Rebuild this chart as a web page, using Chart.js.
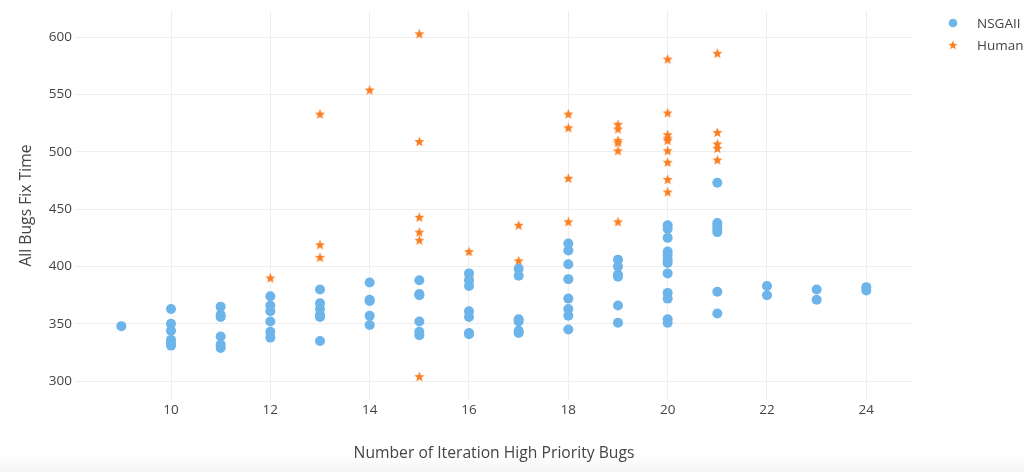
<!DOCTYPE html>
<html>
<head>
<meta charset="utf-8">
<title>All Bugs Fix Time vs High Priority Bugs</title>
<script src="https://cdn.jsdelivr.net/npm/chart.js@4.4.1/dist/chart.umd.min.js"></script>
<style>
  html, body { margin: 0; padding: 0; background: #fff; }
  #wrap { position: relative; width: 1024px; height: 472px; overflow: hidden;
          font-family: "Open Sans", "DejaVu Sans", sans-serif; }
  #shade { position: absolute; left: 0; right: 0; bottom: 0; height: 18px;
           background: linear-gradient(#ffffff, #f5f5f5); }
  #plot { position: absolute; left: 0; top: 0; }
  .lg { position: absolute; left: 946px; height: 18px; line-height: 18px;
        font-size: 13.5px; color: #444; white-space: nowrap; }
  .lg .mk { position: absolute; left: 0; top: 0; width: 14px; height: 18px; }
  .lg .tx { position: absolute; left: 31px; top: 0; }
</style>
</head>
<body>
<div id="wrap">
  <div id="shade"></div>
  <canvas id="plot" width="1024" height="472"></canvas>
  <div class="lg" style="top:14px">
    <svg class="mk" viewBox="0 0 14 18"><circle cx="7" cy="9" r="4.3" fill="#6cb4ea"/></svg>
    <span class="tx">NSGAII</span>
  </div>
  <div class="lg" style="top:36px">
    <svg class="mk" viewBox="0 0 14 18"><polygon id="lgStar" fill="#fb7e22"/></svg>
    <span class="tx">Human</span>
  </div>
</div>
<script>
// Iteration counts (x) and the fix-time values found at each count
const nsgaIterations = [9, 10, 11, 12, 13, 14, 15, 16, 17, 18, 19, 20, 21, 22, 23, 24];
const nsgaFixTimes = [
  [348],
  [363, 350, 344, 336, 333, 331],
  [365, 358, 356, 339, 332, 329],
  [374, 366, 361, 352, 343, 338],
  [380, 368, 363, 358, 356, 335],
  [386, 371, 370, 357, 349],
  [388, 376, 375, 352, 343, 340],
  [394, 388, 383, 361, 356, 342, 341],
  [398, 392, 354, 352, 344, 342],
  [420, 414, 402, 389, 372, 363, 357, 345],
  [406, 400, 393, 391, 366, 351],
  [436, 433, 425, 413, 410, 406, 403, 394, 377, 372, 354, 351],
  [473, 438, 436, 433, 430, 378, 359],
  [383, 375],
  [380, 371],
  [382, 379]
];

const humanIterations = [12, 13, 14, 15, 16, 17, 18, 19, 20, 21];
const humanFixTimes = [
  [390],
  [533, 419, 408],
  [554],
  [603, 509, 443, 430, 423, 304],
  [413, 390],
  [436, 405],
  [533, 521, 477, 439],
  [524, 520, 510, 508, 501, 439],
  [581, 534, 515, 512, 510, 501, 491, 476, 465],
  [586, 517, 507, 503, 493]
];

const xTickValues = [10, 12, 14, 16, 18, 20, 22, 24];
const yTickValues = [300, 350, 400, 450, 500, 550, 600];

const seriesNames = ['NSGAII', 'Human'];
const xTitle = 'Number of Iteration High Priority Bugs';
const yTitle = 'All Bugs Fix Time';

const BLUE = '#6cb4ea';
const ORANGE = '#fb7e22';
const INK = '#444444';
const GRID = '#eeeeee';
const FONT = '"Open Sans", "DejaVu Sans", sans-serif';

function toPoints(xs, groups) {
  const pts = [];
  xs.forEach((x, i) => groups[i].forEach(y => pts.push({ x: x, y: y })));
  return pts;
}

// Five-pointed star vertices around (cx, cy)
function starVertices(cx, cy, outer, inner) {
  const v = [];
  for (let k = 0; k < 10; k++) {
    const r = k % 2 === 0 ? outer : inner;
    const a = -Math.PI / 2 + k * Math.PI / 5;
    v.push([cx + r * Math.cos(a), cy + r * Math.sin(a)]);
  }
  return v;
}

// Filled star marker used as a point style
function makeStar(size, color) {
  const c = document.createElement('canvas');
  c.width = size; c.height = size;
  const g = c.getContext('2d');
  const v = starVertices(size / 2, size / 2 + 0.4, size / 2 - 0.2, (size / 2) * 0.42);
  g.beginPath();
  v.forEach((p, i) => i ? g.lineTo(p[0], p[1]) : g.moveTo(p[0], p[1]));
  g.closePath();
  g.fillStyle = color;
  g.fill();
  return c;
}

document.getElementById('lgStar').setAttribute('points',
  starVertices(7, 9.4, 4.8, 2.0).map(p => p[0].toFixed(2) + ',' + p[1].toFixed(2)).join(' '));

const starMarker = makeStar(11, ORANGE);

new Chart(document.getElementById('plot'), {
  type: 'scatter',
  data: {
    datasets: [
      {
        label: seriesNames[0],
        data: toPoints(nsgaIterations, nsgaFixTimes),
        backgroundColor: BLUE,
        borderColor: BLUE,
        borderWidth: 0,
        pointRadius: 5,
        pointHoverRadius: 5
      },
      {
        label: seriesNames[1],
        data: toPoints(humanIterations, humanFixTimes),
        pointStyle: starMarker,
        backgroundColor: ORANGE,
        borderColor: ORANGE,
        pointRadius: 5.5,
        pointHoverRadius: 5.5
      }
    ]
  },
  options: {
    responsive: false,
    animation: false,
    events: [],
    layout: { padding: { left: 0, right: 111, top: 8, bottom: 0 } },
    plugins: {
      legend: { display: false },
      tooltip: { enabled: false }
    },
    scales: {
      x: {
        type: 'linear',
        min: 8.067,
        max: 24.94,
        afterBuildTicks: axis => { axis.ticks = xTickValues.map(v => ({ value: v })); },
        afterFit: axis => { axis.height = 72; },
        grid: { color: GRID, lineWidth: 1, drawTicks: false },
        border: { display: false },
        ticks: { color: INK, font: { family: FONT, size: 13.5 }, padding: 2, maxRotation: 0 },
        title: {
          display: true, text: xTitle, color: INK,
          font: { family: FONT, size: 15.7 },
          padding: { top: 0, bottom: 9 }
        }
      },
      y: {
        type: 'linear',
        min: 283.56,
        max: 622.8,
        afterBuildTicks: axis => { axis.ticks = yTickValues.map(v => ({ value: v })); },
        afterFit: axis => { axis.width = 75; },
        grid: { color: GRID, lineWidth: 1, drawTicks: false },
        border: { display: false },
        ticks: { color: INK, font: { family: FONT, size: 13.5 }, padding: 3 },
        title: {
          display: true, text: yTitle, color: INK,
          font: { family: FONT, size: 15.7 },
          padding: { top: 17, bottom: 0 }
        }
      }
    }
  }
});
</script>
</body>
</html>
